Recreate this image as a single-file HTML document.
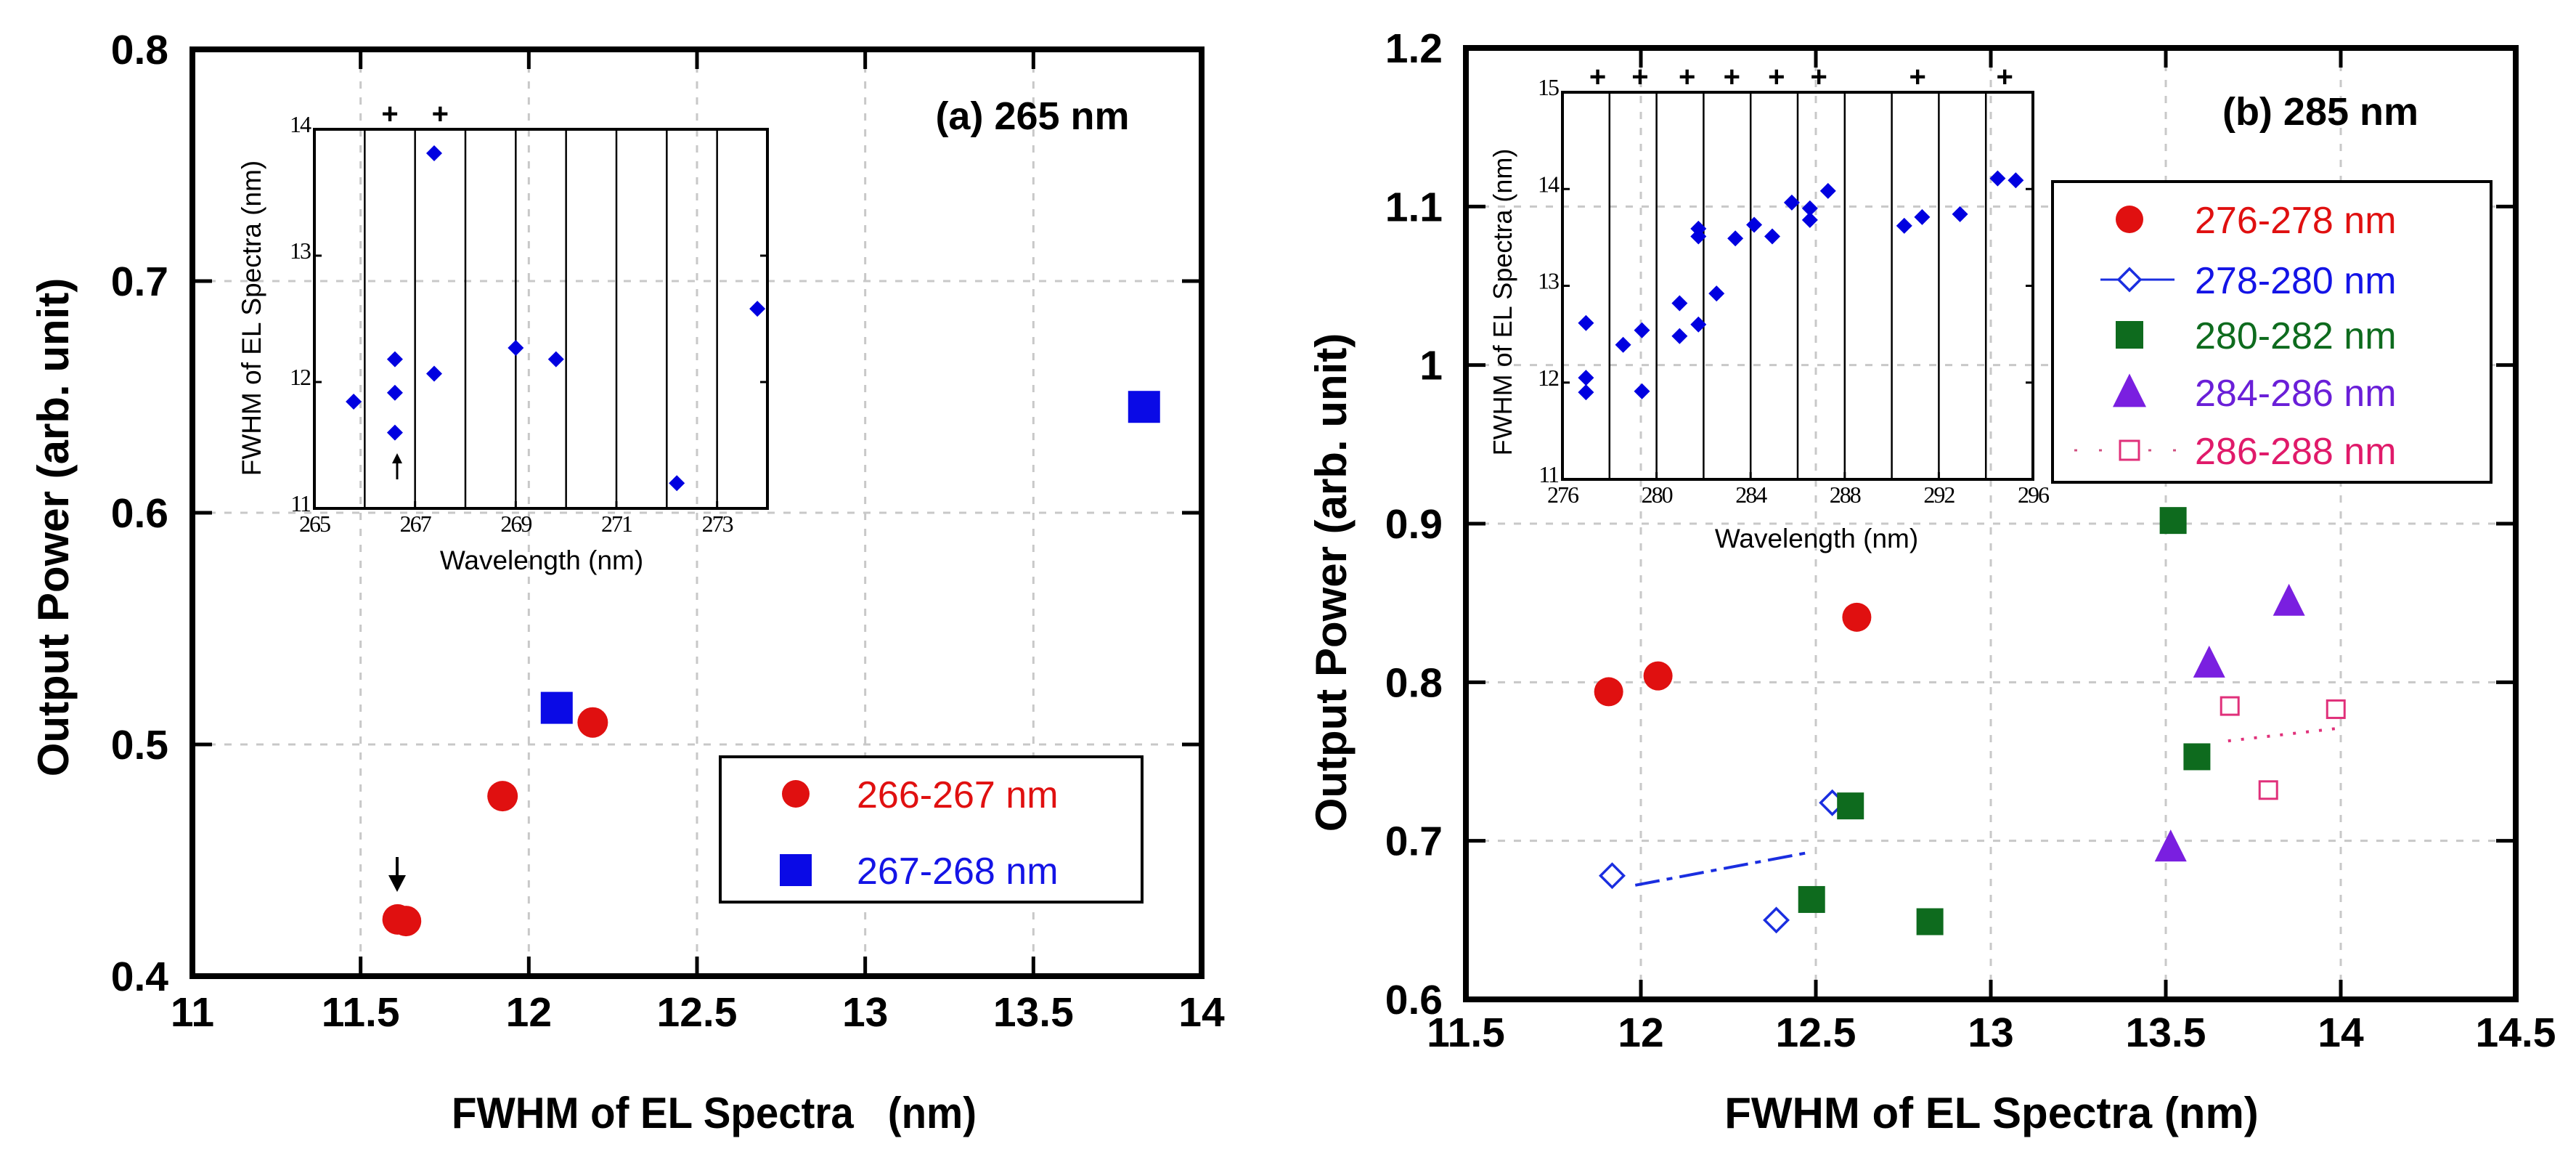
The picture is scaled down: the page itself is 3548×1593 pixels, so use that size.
<!DOCTYPE html>
<html><head><meta charset="utf-8"><style>
html,body{margin:0;padding:0;background:#fff}
svg{display:block}
.b{font-family:"Liberation Sans",Arial,sans-serif;font-weight:bold}
.r{font-family:"Liberation Sans",Arial,sans-serif}
.s{font-family:"Liberation Serif","Times New Roman",serif}
.pre{white-space:pre}
</style></head><body>
<svg id="chart" width="3548" height="1593" viewBox="0 0 3548 1593" xmlns="http://www.w3.org/2000/svg"></svg>
<script>
// ---------- data: panel (a) ----------
const aXTicks=[11,11.5,12,12.5,13,13.5,14];
const aXTickLabels=["11","11.5","12","12.5","13","13.5","14"];
const aYTicks=[0.4,0.5,0.6,0.7,0.8];
const aYTickLabels=["0.4","0.5","0.6","0.7","0.8"];
const aRedX=[11.61,11.635,11.922,12.19];
const aRedY=[0.4245,0.4238,0.4777,0.5095];
const aBlueX=[12.083,13.829];
const aBlueY=[0.5158,0.6457];
const aInsetXTicks=[265,267,269,271,273];
const aInsetYTicks=[11,12,13,14];
const aInsetLines=[266,267,268,269,270,271,272,273];
const aInsetPlus=[266.5,267.5];
const aInsetX=[265.78,266.6,266.6,266.6,267.38,267.38,269.0,269.8,272.2,273.8];
const aInsetY=[11.845,12.18,11.915,11.6,13.81,12.066,12.27,12.18,11.2,12.58];
// ---------- data: panel (b) ----------
const bXTicks=[11.5,12,12.5,13,13.5,14,14.5];
const bXTickLabels=["11.5","12","12.5","13","13.5","14","14.5"];
const bYTicks=[0.6,0.7,0.8,0.9,1.0,1.1,1.2];
const bYTickLabels=["0.6","0.7","0.8","0.9","1","1.1","1.2"];
const bRedX=[11.908,12.049,12.617];
const bRedY=[0.794,0.804,0.841];
const bDiaX=[11.918,12.387,12.547];
const bDiaY=[0.678,0.650,0.724];
const bDiaFitX=[11.984,12.488];
const bDiaFitY=[0.672,0.693];
const bGreenX=[13.521,12.488,12.599,12.826,13.589];
const bGreenY=[0.902,0.663,0.722,0.649,0.753];
const bTriX=[13.514,13.624,13.852];
const bTriY=[0.695,0.811,0.850];
const bPinkX=[13.683,13.793,13.986];
const bPinkY=[0.785,0.732,0.783];
const bPinkFitX=[13.678,13.995];
const bPinkFitY=[0.763,0.771];
const bInsetXTicks=[276,280,284,288,292,296];
const bInsetYTicks=[11,12,13,14,15];
const bInsetLines=[278,280,282,284,286,288,290,292,294];
const bInsetPlus=[277.5,279.3,281.3,283.2,285.1,286.9,291.1,294.8];
const bInsetX=[277,277,277,278.58,279.38,279.38,280.98,280.98,281.78,281.78,281.78,282.55,283.35,284.15,284.92,285.75,286.52,286.52,287.29,290.53,291.29,292.9,294.5,295.27];
const bInsetY=[12.615,12.05,11.9,12.39,12.54,11.91,12.82,12.48,12.6,13.59,13.51,12.92,13.49,13.63,13.51,13.86,13.8,13.68,13.98,13.62,13.71,13.74,14.11,14.09];

const NS="http://www.w3.org/2000/svg";
const svg=document.getElementById('chart');
function mk(tag,attrs,parent,text){const e=document.createElementNS(NS,tag);for(const k in attrs)e.setAttribute(k,attrs[k]);if(text!==undefined)e.textContent=text;(parent||svg).appendChild(e);return e;}
function scale(d0,d1,r0,r1){return v=>r0+(v-d0)/(d1-d0)*(r1-r0);}

const aX=scale(11,14,265,1655), aY=scale(0.4,0.8,1344,68);
const aiX=scale(265,274,433,1057), aiY=scale(11,14,700,178);
const bX=scale(11.5,14.5,2019,3465), bY=scale(0.6,1.2,1376,66);
const biX=scale(276,296,2152,2800), biY=scale(11,15,660,127);

function grid(g,xs,ys,X,Y,x0,x1,y0,y1){
 xs.forEach(v=>{const l=mk('line',{x1:X(v),x2:X(v),y1:y0,y2:y1,stroke:'#c8c8c8','stroke-width':3,'stroke-dasharray':'10 12'},g);
  });
 ys.forEach(v=>{const l=mk('line',{x1:x0,x2:x1,y1:Y(v),y2:Y(v),stroke:'#c8c8c8','stroke-width':3,'stroke-dasharray':'10 12'},g);
  });
}
function mainAxes(g,xs,xl,ys,yl,X,Y,x0,x1,y0,y1,xlabY,ylabX){
 xs.forEach((v,i)=>{
  mk('line',{x1:X(v),x2:X(v),y1:y1,y2:y1-27,stroke:'#000','stroke-width':5},g);
  mk('line',{x1:X(v),x2:X(v),y1:y0,y2:y0+27,stroke:'#000','stroke-width':5},g);
  const t=mk('text',{x:X(v),y:xlabY,'text-anchor':'middle','font-size':57,class:'b'},g,xl[i]);
  
 });
 ys.forEach((v,i)=>{
  mk('line',{x1:x0,x2:x0+27,y1:Y(v),y2:Y(v),stroke:'#000','stroke-width':5},g);
  mk('line',{x1:x1,x2:x1-27,y1:Y(v),y2:Y(v),stroke:'#000','stroke-width':5},g);
  const t=mk('text',{x:ylabX,y:Y(v)+20,'text-anchor':'end','font-size':57,class:'b'},g,yl[i]);
  
 });
 const f=mk('rect',{x:x0,y:y0,width:x1-x0,height:y1-y0,fill:'none',stroke:'#000','stroke-width':8},g);
 
}
function inset(g,xt,yt,lines,plus,px,py,X,Y,x0,x1,y0,y1){
 lines.forEach(v=>{const l=mk('line',{x1:X(v),x2:X(v),y1:y0,y2:y1,stroke:'#000','stroke-width':2.5},g);
  });
 plus.forEach(v=>{const t=mk('text',{x:X(v),y:y0-8,'text-anchor':'middle','font-size':40,class:'b'},g,'+');
  });
 xt.forEach(v=>{mk('line',{x1:X(v),x2:X(v),y1:y1,y2:y1-10,stroke:'#000','stroke-width':3},g);
  const t=mk('text',{x:X(v),y:y1+32,'text-anchor':'middle','font-size':32,class:'s','letter-spacing':-2},g,String(v));
  });
 yt.forEach(v=>{mk('line',{x1:x0,x2:x0+10,y1:Y(v),y2:Y(v),stroke:'#000','stroke-width':3},g);
  mk('line',{x1:x1,x2:x1-10,y1:Y(v),y2:Y(v),stroke:'#000','stroke-width':3},g);
  const t=mk('text',{x:x0-6,y:Y(v)+4,'text-anchor':'end','font-size':32,class:'s','letter-spacing':-2},g,String(v));
  });
 const f=mk('rect',{x:x0,y:y0,width:x1-x0,height:y1-y0,fill:'none',stroke:'#000','stroke-width':4},g);
 
 px.forEach((v,i)=>{const cx=X(v),cy=Y(py[i]);
  const d=mk('polygon',{points:`${cx},${cy-11} ${cx+11},${cy} ${cx},${cy+11} ${cx-11},${cy}`,fill:'#0000e0'},g);
  });
}
function circle(g,cx,cy,r,c,name){const e=mk('circle',{cx,cy,r,fill:c},g);return e;}
function square(g,cx,cy,s,fill,stroke,name){const e=mk('rect',{x:cx-s/2,y:cy-s/2,width:s,height:s,fill:fill,stroke:stroke||'none','stroke-width':3},g);return e;}
function diamond(g,cx,cy,r,name){const e=mk('polygon',{points:`${cx},${cy-r} ${cx+r},${cy} ${cx},${cy+r} ${cx-r},${cy}`,fill:'#fff',stroke:'#1a2ee0','stroke-width':3.5},g);return e;}
function tri(g,cx,cy,s,name){const e=mk('polygon',{points:`${cx},${cy-s*0.6} ${cx+s/2},${cy+s*0.4} ${cx-s/2},${cy+s*0.4}`,fill:'#7a1fe0'},g);return e;}

// ---------- panel (a) ----------
const ga=mk('g',{});
grid(ga,aXTicks.slice(1,-1),aYTicks.slice(1,-1),aX,aY,265,1655,68,1344);
inset(ga,aInsetXTicks,aInsetYTicks,aInsetLines,aInsetPlus,aInsetX,aInsetY,aiX,aiY,433,1057,178,700);
const ia=mk('g',{},ga);
mk('line',{x1:547,x2:547,y1:660,y2:635,stroke:'#000','stroke-width':3},ia);
mk('polygon',{points:'540,638 554,638 547,624',fill:'#000'},ia);
mainAxes(ga,aXTicks,aXTickLabels,aYTicks,aYTickLabels,aX,aY,265,1655,68,1344,1413,232);
aRedX.forEach((v,i)=>circle(ga,aX(v),aY(aRedY[i]),21,'#e01010','point-266-267'));
aBlueX.forEach((v,i)=>square(ga,aX(v),aY(aBlueY[i]),44,'#0a0ae6',null,'point-267-268'));
const arA=mk('g',{},ga);
mk('line',{x1:547,x2:547,y1:1180,y2:1212,stroke:'#000','stroke-width':4},arA);
mk('polygon',{points:'535,1205 559,1205 547,1228',fill:'#000'},arA);
let t=mk('text',{x:1422,y:178,'text-anchor':'middle','font-size':54,class:'b'},ga,'(a) 265 nm');

t=mk('text',{x:622,y:1553,'font-size':60,class:'b pre',textLength:723,lengthAdjust:'spacingAndGlyphs'},ga,'FWHM of EL Spectra   (nm)');

t=mk('text',{x:0,y:0,'text-anchor':'middle','font-size':60,class:'b',transform:'translate(94,726) rotate(-90)'},ga,'Output Power (arb. unit)');

t=mk('text',{x:0,y:0,'text-anchor':'middle','font-size':37,class:'r',transform:'translate(359,438) rotate(-90)'},ga,'FWHM of EL Spectra (nm)');

t=mk('text',{x:746,y:784,'text-anchor':'middle','font-size':37,class:'r'},ga,'Wavelength (nm)');

const la=mk('g',{},ga);
mk('rect',{x:992,y:1042,width:581,height:200,fill:'#fff',stroke:'#000','stroke-width':4},la);
circle(la,1096,1093,19,'#e01010','legend-marker-266-267');
t=mk('text',{x:1180,y:1112,'font-size':52,fill:'#e01010',class:'r'},la,'266-267 nm');

square(la,1096,1198,44,'#0a0ae6',null,'legend-marker-267-268');
t=mk('text',{x:1180,y:1217,'font-size':52,fill:'#1414e6',class:'r'},la,'267-268 nm');


// ---------- panel (b) ----------
const gb=mk('g',{});
grid(gb,bXTicks.slice(1,-1),bYTicks.slice(1,-1),bX,bY,2019,3465,66,1376);
inset(gb,bInsetXTicks,bInsetYTicks,bInsetLines,bInsetPlus,bInsetX,bInsetY,biX,biY,2152,2800,127,660);
mainAxes(gb,bXTicks,bXTickLabels,bYTicks,bYTickLabels,bX,bY,2019,3465,66,1376,1441,1987);
let fl=mk('line',{x1:bX(bDiaFitX[0]),y1:bY(bDiaFitY[0]),x2:bX(bDiaFitX[1]),y2:bY(bDiaFitY[1]),stroke:'#1a2ee0','stroke-width':4,'stroke-dasharray':'34 10 8 10'},gb);

fl=mk('line',{x1:bX(bPinkFitX[0]),y1:bY(bPinkFitY[0]),x2:bX(bPinkFitX[1]),y2:bY(bPinkFitY[1]),stroke:'#e0307a','stroke-width':4,'stroke-dasharray':'4 14'},gb);

bRedX.forEach((v,i)=>circle(gb,bX(v),bY(bRedY[i]),20,'#e01010','point-276-278'));
bDiaX.forEach((v,i)=>diamond(gb,bX(v),bY(bDiaY[i]),16,'point-278-280'));
bGreenX.forEach((v,i)=>square(gb,bX(v),bY(bGreenY[i]),37,'#0e6b1e',null,'point-280-282'));
bTriX.forEach((v,i)=>tri(gb,bX(v),bY(bTriY[i]),44,'point-284-286'));
bPinkX.forEach((v,i)=>square(gb,bX(v),bY(bPinkY[i]),24,'#fff','#e0307a','point-286-288'));
t=mk('text',{x:3196,y:172,'text-anchor':'middle','font-size':54,class:'b'},gb,'(b) 285 nm');

t=mk('text',{x:2743,y:1553,'text-anchor':'middle','font-size':60,class:'b'},gb,'FWHM of EL Spectra (nm)');

t=mk('text',{x:0,y:0,'text-anchor':'middle','font-size':60,class:'b',transform:'translate(1854,802) rotate(-90)'},gb,'Output Power (arb. unit)');

t=mk('text',{x:0,y:0,'text-anchor':'middle','font-size':36,class:'r',transform:'translate(2082,416) rotate(-90)'},gb,'FWHM of EL Spectra (nm)');

t=mk('text',{x:2502,y:754,'text-anchor':'middle','font-size':37,class:'r'},gb,'Wavelength (nm)');

const lb=mk('g',{},gb);
mk('rect',{x:2827,y:250,width:604,height:414,fill:'#fff',stroke:'#000','stroke-width':4},lb);
const ly=[302,385,461,540,620];
const lt=['276-278 nm','278-280 nm','280-282 nm','284-286 nm','286-288 nm'];
const lc=['#e01010','#1414e6','#0e6b1e','#6a1fd8','#e01a6a'];
circle(lb,2933,ly[0],19,'#e01010','legend-marker-276-278');
mk('line',{x1:2893,x2:2995,y1:ly[1],y2:ly[1],stroke:'#1a2ee0','stroke-width':3},lb);
diamond(lb,2933,ly[1],15,'legend-marker-278-280');
square(lb,2933,ly[2],38,'#0e6b1e',null,'legend-marker-280-282');
tri(lb,2933,ly[3]+2,46,'legend-marker-284-286');
mk('line',{x1:2857,x2:3005,y1:ly[4],y2:ly[4],stroke:'#d05080','stroke-width':3,'stroke-dasharray':'4 30'},lb);
square(lb,2933,ly[4],26,'#fff','#e0307a','legend-marker-286-288');
lt.forEach((s,i)=>{const e=mk('text',{x:3023,y:ly[i]+19,'font-size':52,fill:lc[i],class:'r'},lb,s);
 });
</script>
</body></html>
